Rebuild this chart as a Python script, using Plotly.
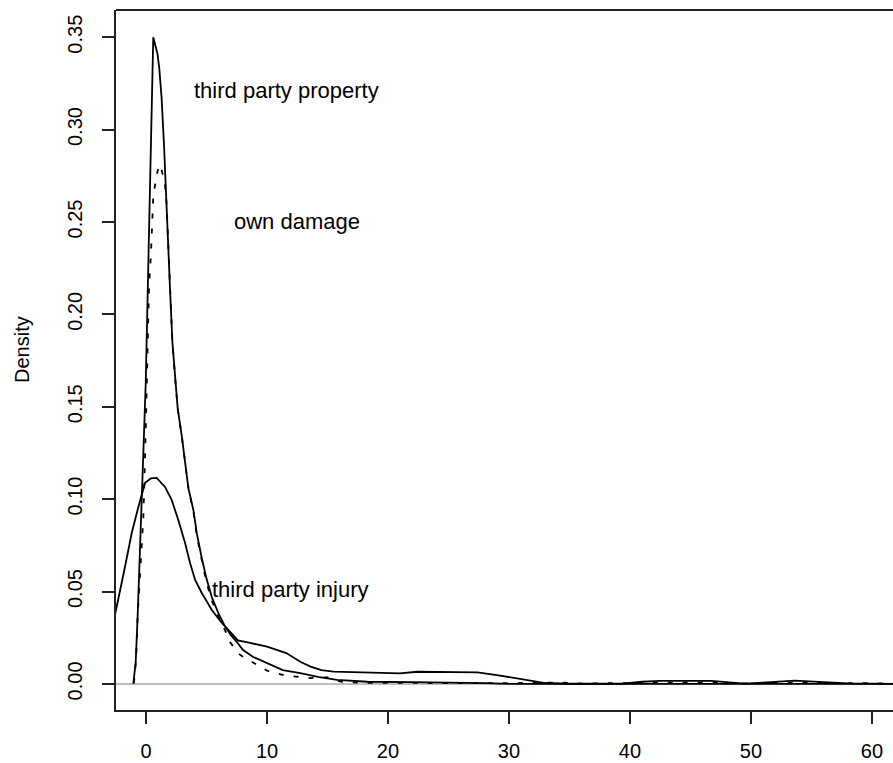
import plotly.graph_objects as go

# ---- data ----
prop_x = [-1.05, -0.85, -0.69, -0.52, -0.41, -0.22, -0.02, 0.14, 0.25, 0.47, 0.6, 0.75, 0.95, 1.1, 1.29, 1.5, 1.70,
          1.99, 2.18, 2.4, 2.62, 2.96, 3.23, 3.5, 3.92, 4.2, 4.61, 5.0, 5.44, 6.0, 6.54, 7.0, 7.5, 8.0, 8.86, 10.0,
          11.3, 12.75, 14.2, 15.8, 18.3, 22, 26, 28, 30, 62]
prop_y = [0.0, 0.012, 0.037, 0.07, 0.100, 0.125, 0.1635, 0.211, 0.2585, 0.3065, 0.350, 0.346, 0.341, 0.333, 0.317,
          0.29, 0.262, 0.213, 0.185, 0.166, 0.149, 0.134, 0.119, 0.106, 0.094, 0.0815, 0.068, 0.057, 0.047, 0.038,
          0.031, 0.0265, 0.0228, 0.0185, 0.0146, 0.0112, 0.0075, 0.0058, 0.0038, 0.0022, 0.0012, 0.001, 0.0008,
          0.0004, 0.0, 0.0]

own_x = [-1.0, -0.83, -0.69, -0.5, -0.22, -0.02, 0.14, 0.19, 0.25, 0.41, 0.51, 0.60, 0.88, 1.1, 1.3, 1.57, 1.70,
         1.84, 1.99, 2.18, 2.4, 2.62, 2.96, 3.23, 3.5, 3.92, 4.2, 4.61, 5.0, 5.44, 6.0, 6.54, 6.95, 7.78, 8.86, 10.0,
         11.5, 13.6, 15.0, 16.1, 18, 25, 30, 34, 36, 40, 42, 48, 50, 52, 55, 62]
own_y = [0.0005, 0.012, 0.037, 0.06, 0.09, 0.138, 0.183, 0.2, 0.215, 0.233, 0.251, 0.2637, 0.2755, 0.281, 0.278,
         0.270, 0.260, 0.235, 0.213, 0.185, 0.166, 0.149, 0.134, 0.119, 0.106, 0.093, 0.080, 0.067, 0.055, 0.045,
         0.036, 0.029, 0.0225, 0.0157, 0.0115, 0.0072, 0.0045, 0.0032, 0.0036, 0.0012, 0.0006, 0.0005, 0.0004,
         0.0008, 0.0002, 0.0005, 0.0008, 0.0006, 0.0002, 0.0007, 0.0005, 0.0003]

inj_x = [-2.7, -2.48, -1.74, -1.18, -0.63, -0.08, 0.4, 0.88, 1.57, 2.12, 2.67, 3.23, 3.64, 4.06, 4.61, 5.44, 6.27,
         7.2, 7.6, 8.6, 10.0, 11.6, 12.75, 13.6, 14.5, 15.5, 19.6, 21.0, 22.4, 27.4, 29.0, 30.4, 32.0, 33, 35, 39.4,
         41, 42.5, 46.7, 48, 49.5, 51, 53.6, 56, 58, 62]
inj_y = [0.034, 0.040, 0.0633, 0.0817, 0.0958, 0.1088, 0.1112, 0.1115, 0.1066, 0.0996, 0.0887, 0.0763, 0.0655,
         0.0563, 0.0492, 0.040, 0.033, 0.0265, 0.0236, 0.0222, 0.0202, 0.0167, 0.012, 0.0094, 0.0075, 0.0067,
         0.0057, 0.0057, 0.0066, 0.0063, 0.0048, 0.0034, 0.0014, 0.0005, 0.0001, 0.0001, 0.0012, 0.0017, 0.0017,
         0.0010, 0.0002, 0.0007, 0.0018, 0.0010, 0.0003, 0.0]

labels = ["third party property", "own damage", "third party injury"]
label_x = [11.65, 12.48, 11.98]
label_y = [0.321, 0.2505, 0.0509]

x_ticks = [0, 10, 20, 30, 40, 50, 60]
y_ticks = [0.00, 0.05, 0.10, 0.15, 0.20, 0.25, 0.30, 0.35]

FONT = "Liberation Sans, Arial, sans-serif"

fig = go.Figure()
fig.add_trace(go.Scatter(x=prop_x, y=prop_y, mode="lines", line=dict(color="black", width=1.8),
                         name=labels[0], cliponaxis=True))
fig.add_trace(go.Scatter(x=own_x, y=own_y, mode="lines", line=dict(color="black", width=1.8, dash="5px,10px"),
                         name=labels[1], cliponaxis=True))
fig.add_trace(go.Scatter(x=inj_x, y=inj_y, mode="lines", line=dict(color="black", width=1.8),
                         name=labels[2], cliponaxis=True))

# gray zero line
fig.add_shape(type="line", xref="paper", x0=0, x1=1, yref="y", y0=0, y1=0,
              line=dict(color="#BEBEBE", width=2), layer="below")
# top border of box
fig.add_shape(type="line", xref="paper", x0=0, x1=1, yref="paper", y0=1, y1=1,
              line=dict(color="#222222", width=2))

for t, xx, yy in zip(labels, label_x, label_y):
    fig.add_annotation(x=xx, y=yy, text=t, showarrow=False, xanchor="center", yanchor="middle",
                       font=dict(family=FONT, size=22, color="black"))

fig.add_annotation(xref="paper", yref="paper", x=(22 - 116) / 777, y=(710 - 350) / 700, text="Density",
                   textangle=-90, showarrow=False, xanchor="center", yanchor="middle",
                   font=dict(family=FONT, size=20, color="black"))

fig.update_layout(
    width=893, height=763,
    margin=dict(l=116, r=0, t=10, b=53),
    paper_bgcolor="white", plot_bgcolor="white",
    showlegend=False,
    font=dict(family=FONT, size=20, color="black"),
    xaxis=dict(range=[-2.48, 61.74], tickvals=x_ticks, ticktext=[str(v) for v in x_ticks],
               showgrid=False, zeroline=False, showline=True, linecolor="#222222", linewidth=2,
               ticks="outside", ticklen=12, tickwidth=2, tickcolor="#222222", ticklabelstandoff=10,
               tickfont=dict(family=FONT, size=20, color="black")),
    yaxis=dict(range=[-0.0141, 0.3647], tickvals=y_ticks, ticktext=[f"{v:.2f}" for v in y_ticks],
               showgrid=False, zeroline=False, showline=True, linecolor="#222222", linewidth=2,
               ticks="outside", ticklen=12, tickwidth=2, tickcolor="#222222", tickangle=-90,
               ticklabelstandoff=12,
               tickfont=dict(family=FONT, size=20, color="black")),
)

fig.write_html("out.html")
